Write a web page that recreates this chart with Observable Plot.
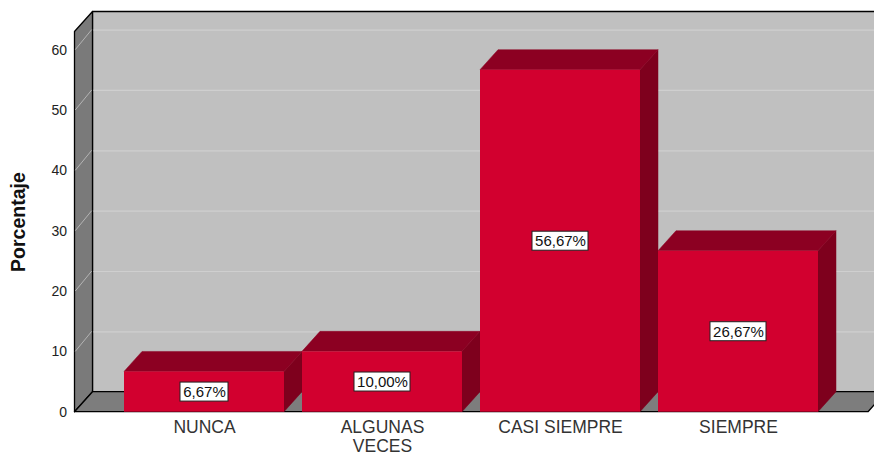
<!DOCTYPE html>
<html>
<head>
<meta charset="utf-8">
<script src="https://cdn.jsdelivr.net/npm/d3@7"></script>
<script src="https://cdn.jsdelivr.net/npm/@observablehq/plot@0.6"></script>
<style>
  html, body { margin: 0; padding: 0; background: #fff; }
  #chart svg { display: block; }
</style>
</head>
<body>
<div id="chart"></div>
<script>
// ---- data ----
const categories = ["NUNCA", "ALGUNAS VECES", "CASI SIEMPRE", "SIEMPRE"];
const xTickLabels = ["NUNCA", "ALGUNAS\nVECES", "CASI SIEMPRE", "SIEMPRE"];
const percentages = [6.67, 10.00, 56.67, 26.67];
const valueLabels = ["6,67%", "10,00%", "56,67%", "26,67%"];
const yTicks = [0, 10, 20, 30, 40, 50, 60];
const yTitle = ["Porcentaje"];

const data = categories.map((c, i) => ({category: c, value: percentages[i], label: valueLabels[i]}));

// ---- styling ----
const DX = 18, DY = -20;                // 3D depth offset (pixels)
const FRONT = "#d2002f", TOP = "#8c0022", SIDE = "#7e001d";
const BACKWALL = "#c0c0c0", SIDEWALL = "#7a7a7a", FLOOR = "#7d7d7d";
const GRID = "#cfcfcf", SIDEGRID = "#b4b4b4";

function addPoly(g, pts, fill, stroke, sw) {
  const p = g.append("polygon")
    .attr("points", pts.map(p => p.join(",")).join(" "))
    .attr("fill", fill);
  if (stroke) p.attr("stroke", stroke).attr("stroke-width", sw || 1).attr("stroke-linejoin", "round");
  else p.attr("stroke", fill).attr("stroke-width", 0.5);
  return p;
}

// back wall
function wallsMark(index, scales, values, dim) {
  const {y} = scales;
  const x0 = dim.marginLeft, x1 = dim.width - dim.marginRight;
  const yb = y(0), yt = y(y.domain()[1]);
  const g = d3.create("svg:g");
  addPoly(g, [[x0 + DX, yt + DY], [x1 + DX, yt + DY], [x1 + DX, yb + DY], [x0 + DX, yb + DY]], BACKWALL, "#000", 1.3);
  return g.node();
}
// side wall (with diagonal grid lines) and floor
function sideMark(index, scales, values, dim) {
  const {y} = scales;
  const x0 = dim.marginLeft, x1 = dim.width - dim.marginRight;
  const yb = y(0), yt = y(y.domain()[1]);
  const g = d3.create("svg:g");
  addPoly(g, [[x0, yt], [x0 + DX, yt + DY], [x0 + DX, yb + DY], [x0, yb]], SIDEWALL, "#000", 1.3);
  for (const t of yTicks.slice(1)) {
    g.append("line")
      .attr("x1", x0 + 0.8).attr("y1", y(t))
      .attr("x2", x0 + DX - 0.8).attr("y2", y(t) + DY)
      .attr("stroke", SIDEGRID).attr("stroke-width", 1);
  }
  addPoly(g, [[x0, yb], [x1, yb], [x1 + DX, yb + DY], [x0 + DX, yb + DY]], FLOOR, "#000", 1.3);
  return g.node();
}
// top and side faces of the bars
function barDepthMark(index, scales, values, dim) {
  const {x, y} = scales;
  const bw = x.bandwidth();
  const g = d3.create("svg:g");
  for (const d of data) {
    const bx0 = x(d.category), bx1 = bx0 + bw;
    const yt = y(d.value), yb = y(0);
    addPoly(g, [[bx1, yt], [bx1 + DX, yt + DY], [bx1 + DX, yb + DY], [bx1, yb]], SIDE);
    addPoly(g, [[bx0, yt], [bx1, yt], [bx1 + DX, yt + DY], [bx0 + DX, yt + DY]], TOP);
  }
  return g.node();
}
// white label boxes
function labelBoxMark(index, scales, values, dim) {
  const {x, y} = scales;
  const bw = x.bandwidth();
  const g = d3.create("svg:g");
  for (const d of data) {
    const cx = x(d.category) + bw / 2, cy = y(d.value / 2);
    const w = 8 * d.label.length + 8, h = 19;
    g.append("rect")
      .attr("x", cx - w / 2).attr("y", cy - h / 2)
      .attr("width", w).attr("height", h)
      .attr("fill", "#fff").attr("stroke", "#222").attr("stroke-width", 1);
  }
  return g.node();
}

const chart = Plot.plot({
  width: 874,
  height: 459,
  marginLeft: 74.5,
  marginRight: 6,
  marginTop: 31.5,
  marginBottom: 47.3,
  style: {fontFamily: "'Liberation Sans', Arial, sans-serif", background: "#fff", color: "#222", overflow: "hidden"},
  x: {domain: categories, paddingInner: 0.1, paddingOuter: 0.275, axis: null},
  y: {domain: [0, 63], axis: null},
  marks: [
    wallsMark,
    Plot.ruleY(yTicks.slice(1), {stroke: GRID, strokeWidth: 1.2, dx: DX, dy: DY}),
    sideMark,
    barDepthMark,
    Plot.barY(data, {x: "category", y: "value", fill: FRONT}),
    labelBoxMark,
    Plot.text(data, {x: "category", y: d => d.value / 2, text: "label", fontSize: 15, fill: "#111"}),
    Plot.axisY(yTicks, {tickSize: 0, tickPadding: 8, fontSize: 14, label: null, fill: "#222"}),
    Plot.axisX({tickSize: 0, tickPadding: 8, fontSize: 17.5, lineHeight: 1.07, label: null, fill: "#333",
                tickFormat: d => xTickLabels[categories.indexOf(d)]}),
    Plot.text(yTitle, {text: d => d, frameAnchor: "left", textAnchor: "middle", rotate: -90, dx: -56,
                       fontSize: 19.5, fontWeight: "bold", fill: "#111"})
  ]
});
document.getElementById("chart").appendChild(chart);
</script>
</body>
</html>
